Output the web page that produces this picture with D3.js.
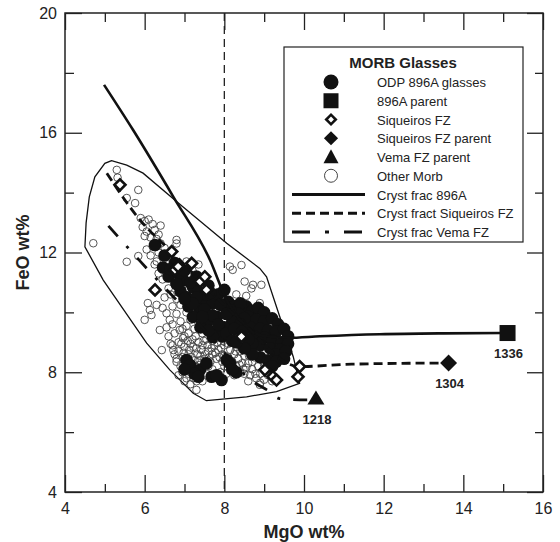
<!DOCTYPE html>
<html>
<head>
<meta charset="utf-8">
<script src="https://cdn.jsdelivr.net/npm/d3@7"></script>
<style>
body{margin:0;background:#fff}
</style>
</head>
<body>
<div id="plot"><svg></svg></div>
<script>
// ---- data (MgO wt%, FeO wt%) ----
var xMajor = [4,6,8,10,12,14,16]
var xMinor = [5,7,9,11,13,15]
var yMajor = [4,8,12,16,20]
var yMinor = [6,10,14,18]

var glasses896A = [
 [8.55,10.2],[8.7,10.05],[8.85,10.15],[9.0,10.0],[8.6,9.85],[8.8,9.75],[9.0,9.7],[9.2,9.8],[9.35,9.6],
 [8.65,9.5],[8.9,9.45],[9.1,9.4],[9.3,9.35],[9.5,9.45],[9.6,9.2],[8.75,9.2],[9.0,9.15],[9.2,9.05],
 [9.45,9.0],[9.6,8.95],[8.9,8.9],[9.15,8.8],[9.4,8.75],[8.7,8.95],[9.3,8.6],[9.55,8.7],
 [8.1,10.35],[8.25,10.2],[8.4,10.3],[8.15,10.0],[8.35,9.95],[8.5,9.8],[8.2,9.7],[8.4,9.6],[8.0,9.5],
 [6.26,12.25],[6.46,11.5],[6.76,11.65],[6.6,11.2],[6.96,11.08],[7.21,10.85],[7.06,10.5],[7.46,10.4],
 [7.71,10.3],[7.39,10.08],[7.81,9.85],[7.21,9.85],[7.56,9.65],[7.89,9.41],[8.14,10.08],[7.3,11.2],
 [7.6,10.9],[7.85,10.6],[8.0,10.75],[7.1,10.2],[7.5,10.1],[7.7,9.9],[7.95,9.2],[7.71,9.18],[7.4,9.5],[6.9,10.7],
 [6.5,11.9],[6.65,11.45],[6.85,11.3],[7.0,11.4],[7.15,11.0],[7.35,10.7],[7.55,10.6],[7.65,10.65],[7.9,10.25],
 [8.05,9.95],[7.3,10.5],[7.2,10.3],[7.0,10.45],[6.8,10.95],[7.45,9.85],[7.6,9.4],[7.85,9.6],[8.05,9.3],
 [8.25,9.45],[8.45,9.35],[8.6,9.1],[8.2,9.05],
 [7.05,8.41],[7.14,8.24],[7.39,8.08],[7.55,8.3],[7.68,7.85],[7.93,7.74],[8.06,8.41],[8.14,8.3],[8.3,8.0],[7.25,7.95],
 [7.0,8.1],[7.35,7.85],[7.8,7.9],[8.2,8.1],
 [8.9,8.5],[9.1,8.4],[9.3,8.35],[9.5,8.45],[9.2,8.2],[8.7,8.6],[8.5,8.8],[8.3,9.0]
]
var parent896A = [[15.11,9.31]]

var siqueirosFZ = [
 [5.38,14.26],[6.68,12.03],[6.26,10.75],[6.76,11.42],[6.84,11.53],[7.18,11.64],[7.39,11.03],[7.51,11.19],
 [7.55,10.75],[8.43,9.19],[9.02,8.08],[9.22,7.85],[9.31,7.74],[9.85,7.85],[9.89,8.19]
]
var siqueirosParent = [[13.63,8.31]]
var vemaParent = [[10.3,7.1]]

var otherMorb = [
 [5.30,14.76],[5.32,14.5],[5.84,14.09],[5.76,13.65],[5.55,13.82],[4.71,12.31],[5.55,11.69],[5.84,11.88],
 [6.80,12.42],[8.14,11.53],[8.21,11.42],[8.43,11.58],[8.51,11.03],[8.72,10.92],[8.93,10.92],[8.68,10.80],
 [8.89,10.31],[6.38,9.41],[6.43,8.74],[6.72,8.74],[7.05,7.80],[7.22,7.80],[7.30,7.41],[6.88,9.41],
 [6.96,9.14],[8.89,7.58],[8.3,10.6],[8.55,10.55],[6.08,10.31],
 [5.9,13.15],[6.0,13.05],[6.1,13.1],[6.2,12.95],[5.95,12.85],[6.05,12.7],[6.25,12.75],[6.35,12.6],
 [6.15,12.5],[6.3,12.45],[6.0,12.55],[6.4,12.9],
 [6.2,12.2],[6.35,12.0],[6.5,12.15],[6.45,11.85],[6.6,11.9],[6.3,11.7],[6.7,11.6],[6.55,11.45],[6.8,12.3],[6.4,12.3],
 [6.7,11.75],[6.9,11.55],[7.05,11.7],[7.2,11.4],[6.85,11.2],[7.0,11.0],[7.3,10.9],[7.15,11.25],[6.75,10.95],[7.35,11.6],
 [6.13,10.08],[6.17,9.91],[6.55,9.97],[6.63,9.75],[6.3,10.25],[6.45,10.15],[6.0,9.75],
 [6.65,10.6],[6.7,10.2],[6.7,9.6],[6.75,9.3],[6.8,10.45],[6.8,9.95],[6.85,9.0],[6.85,8.7],[6.9,10.25],
 [6.9,9.7],[6.95,9.45],[6.95,8.5],[7.0,10.6],[7.0,9.2],[7.0,8.85],[7.05,10.0],[7.05,9.55],[7.1,8.6],
 [7.1,9.3],[7.15,10.35],[7.15,9.75],[7.15,8.95],[7.2,9.1],[7.2,10.55],[7.25,9.45],[7.25,8.4],[7.3,10.15],
 [7.3,8.8],[7.35,9.65],[7.35,9.0],[7.4,8.55],[7.4,10.4],[7.45,9.3],[7.45,8.9],[7.5,9.8],[7.5,8.45],
 [7.55,10.2],[7.55,9.1],[7.6,8.7],[7.6,9.5],[7.65,8.35],[7.65,9.95],[7.7,9.05],[7.7,8.6],[7.75,9.4],
 [7.75,8.9],[7.8,10.1],[7.8,8.45],[7.85,9.15],[7.85,8.75],[6.9,10.9],[7.1,10.75],[7.25,9.95],[7.45,9.65],
 [7.05,8.3],[6.8,8.45],
 [7.9,9.3],[7.95,8.6],[8.0,8.9],[8.0,8.2],[8.05,9.15],[8.05,7.95],[8.1,8.5],[8.1,9.35],[8.15,8.75],
 [8.15,8.05],[8.2,9.0],[8.2,8.35],[8.25,8.6],[8.25,7.9],[8.3,8.85],[8.3,8.2],[8.35,9.2],[8.35,8.45],
 [8.4,8.0],[8.4,8.7],[8.45,8.3],[8.45,9.0],[8.5,8.55],[8.5,7.95],[8.55,8.8],[8.55,8.15],[7.9,8.0],
 [7.95,8.35],[7.85,7.95],[8.0,8.55],[7.6,8.2],[7.7,8.1],[7.5,8.15],[7.4,8.25],[7.95,9.45],[8.2,9.3],
 [8.6,8.3],[8.65,7.9],[8.7,8.1],[8.75,8.5],[8.8,7.8],[8.85,8.2],[8.9,7.95],[8.95,8.4],[9.0,7.75],
 [9.05,8.05],[8.6,7.7],[8.8,8.65],[9.1,7.9],[9.2,7.7],[8.9,7.65],
 [6.7,8.9],[6.75,8.6],[6.8,8.35],[6.9,8.2],[6.95,8.0],[7.0,7.7],[7.1,7.95],[7.15,7.6],[7.3,7.7],
 [7.35,7.95],[6.85,7.9],[7.2,8.1],[7.45,7.7],
 [6.92,8.95],[6.98,8.65],[7.02,8.45],[7.08,9.05],[7.12,8.75],[7.18,8.5],[7.22,8.85],[7.28,9.2],[7.32,8.6],
 [7.38,8.4],[7.42,8.75],[7.48,9.05],[7.52,8.6],[7.58,8.9],[7.62,8.5],[7.68,8.8],[7.72,9.25],[7.78,8.65],
 [7.82,9.0],[7.88,8.5],[7.92,8.8],[7.98,9.05],[6.6,9.2],[6.65,8.95],[6.55,9.5],[6.5,10.5],[6.6,10.8],
 [6.45,11.1],[6.35,11.3],[6.25,11.6],[6.15,11.9],[6.05,12.1],[8.1,8.95],[8.28,8.7],[8.38,8.25],[8.48,8.1],
 [8.62,8.55],[8.7,8.35],[8.78,7.95],[9.0,8.25]
]

var morbField = [
 [5.17,15.07],[5.00,14.98],[4.75,14.53],[4.61,13.86],[4.53,12.99],[4.50,12.19],[4.96,11.08],[6.05,8.97],
 [6.63,8.08],[7.22,7.30],[7.55,7.05],[8.56,7.18],[9.31,7.35],[9.89,7.63],[9.73,8.52],[9.39,9.86],
 [9.06,11.19],[8.89,11.47],[8.06,12.31],[6.80,13.70],[5.96,14.65],[5.55,14.92]
]

var crystFrac896A = [
 [4.98,17.6],[5.71,16.09],[6.72,13.86],[7.64,11.75],[8.06,10.41],[8.5,9.6],[8.95,9.22],[9.6,9.15],
 [10.4,9.2],[11.9,9.27],[13.5,9.3],[15.11,9.31]
]
var crystFracSiqueiros = [
 [5.05,14.65],[5.88,13.09],[6.76,11.92],[8.39,9.75],[9.89,8.19],[11.2,8.27],[13.63,8.31]
]
var crystFracVema = [
 [5.09,12.89],[5.92,11.66],[7.39,9.58],[8.77,7.64],[9.07,7.41],[9.39,7.12],[9.89,7.08],[10.3,7.08]
]

var parentLabels = ["1336","1304","1218"]
var legendTitle = "MORB Glasses"
var legendLabels = ["ODP 896A glasses","896A parent","Siqueiros FZ","Siqueiros FZ parent",
 "Vema FZ parent","Other Morb","Cryst frac 896A","Cryst fract Siqueiros FZ","Cryst frac Vema FZ"]

// ---- drawing ----
var font = "'Liberation Sans', Arial, Helvetica, sans-serif"
var screen = {width:560,height:542}
var box = {left:65,right:543,top:13,bottom:492}

var xScale = d3.scaleLinear().domain([4,16]).range([box.left,box.right])
var yScale = d3.scaleLinear().domain([4,20]).range([box.bottom,box.top])

var svg = d3.select("#plot svg")
    .attr("width",screen.width)
    .attr("height",screen.height)
    .attr("font-family",font)

var makeTranslateString = function(x,y)
{
    return "translate("+x+","+y+")"
}

var lineGen = d3.line()
    .x(function(d){return xScale(d[0])})
    .y(function(d){return yScale(d[1])})

var triPath = function(w,h)
{
    return "M0,"+(-h*0.62)+"L"+(w/2)+","+(h*0.38)+"L"+(-w/2)+","+(h*0.38)+"Z"
}

var drawAxes = function()
{
    var styleAxis = function(g)
    {
        g.select(".domain").remove()
        g.attr("font-family",font).attr("font-size",16)
        g.selectAll("line").attr("stroke","#222").attr("stroke-width",1.3)
        g.selectAll("text").attr("fill","#222")
    }
    // bottom
    svg.append("g").attr("transform",makeTranslateString(0,box.bottom))
        .call(d3.axisBottom(xScale).tickValues(xMajor).tickSizeInner(-17).tickSizeOuter(0).tickPadding(11))
        .call(styleAxis)
    svg.append("g").attr("transform",makeTranslateString(0,box.bottom))
        .call(d3.axisBottom(xScale).tickValues(xMinor).tickSizeInner(-8).tickSizeOuter(0).tickFormat(""))
        .call(styleAxis)
    // top
    svg.append("g").attr("transform",makeTranslateString(0,box.top))
        .call(d3.axisTop(xScale).tickValues(xMajor).tickSizeInner(-17).tickSizeOuter(0).tickFormat(""))
        .call(styleAxis)
    svg.append("g").attr("transform",makeTranslateString(0,box.top))
        .call(d3.axisTop(xScale).tickValues(xMinor).tickSizeInner(-9).tickSizeOuter(0).tickFormat(""))
        .call(styleAxis)
    // left
    svg.append("g").attr("transform",makeTranslateString(box.left,0))
        .call(d3.axisLeft(yScale).tickValues(yMajor).tickSizeInner(-17).tickSizeOuter(0).tickPadding(8))
        .call(styleAxis)
    svg.append("g").attr("transform",makeTranslateString(box.left,0))
        .call(d3.axisLeft(yScale).tickValues(yMinor).tickSizeInner(-9).tickSizeOuter(0).tickFormat(""))
        .call(styleAxis)
    // right
    svg.append("g").attr("transform",makeTranslateString(box.right,0))
        .call(d3.axisRight(yScale).tickValues(yMajor).tickSizeInner(-16).tickSizeOuter(0).tickFormat(""))
        .call(styleAxis)
    svg.append("g").attr("transform",makeTranslateString(box.right,0))
        .call(d3.axisRight(yScale).tickValues(yMinor).tickSizeInner(-8).tickSizeOuter(0).tickFormat(""))
        .call(styleAxis)

    svg.append("rect")
        .attr("x",box.left).attr("y",box.top)
        .attr("width",box.right-box.left).attr("height",box.bottom-box.top)
        .attr("fill","none").attr("stroke","#222").attr("stroke-width",1.5)
}

var drawLabels = function()
{
    svg.append("text")
        .text("MgO wt%")
        .attr("x",(box.left+box.right)/2)
        .attr("y",538)
        .attr("text-anchor","middle")
        .attr("font-weight","bold")
        .attr("font-size",18)
        .attr("fill","#222")

    svg.append("text")
        .text("FeO wt%")
        .attr("transform",makeTranslateString(29,(box.top+box.bottom)/2)+" rotate(-90)")
        .attr("text-anchor","middle")
        .attr("font-weight","bold")
        .attr("font-size",18)
        .attr("fill","#222")
}

var drawPlot = function()
{
    var plot = svg.append("g").attr("id","graph")

    plot.append("path")
        .datum(morbField)
        .attr("d",lineGen.curve(d3.curveLinearClosed))
        .attr("fill","none")
        .attr("stroke","#111")
        .attr("stroke-width",1.3)

    plot.append("line")
        .attr("x1",xScale(8)).attr("x2",xScale(8))
        .attr("y1",box.top).attr("y2",box.bottom)
        .attr("stroke","#222")
        .attr("stroke-width",1.3)
        .attr("stroke-dasharray","8,5")

    plot.selectAll("circle.morb")
        .data(otherMorb)
        .enter()
        .append("circle")
        .attr("class","morb")
        .attr("cx",function(d){return xScale(d[0])})
        .attr("cy",function(d){return yScale(d[1])})
        .attr("r",3.8)
        .attr("fill","none")
        .attr("stroke","#444")
        .attr("stroke-width",0.9)

    plot.selectAll("circle.glass")
        .data(glasses896A)
        .enter()
        .append("circle")
        .attr("class","glass")
        .attr("cx",function(d){return xScale(d[0])})
        .attr("cy",function(d){return yScale(d[1])})
        .attr("r",6.3)
        .attr("fill","#111")

    lineGen.curve(d3.curveMonotoneX)
    plot.append("path")
        .datum(crystFrac896A)
        .attr("d",lineGen)
        .attr("fill","none").attr("stroke","#111").attr("stroke-width",2.6)
    plot.append("path")
        .datum(crystFracSiqueiros)
        .attr("d",lineGen)
        .attr("fill","none").attr("stroke","#111").attr("stroke-width",2.8)
        .attr("stroke-dasharray","9,5")
    plot.append("path")
        .datum(crystFracVema)
        .attr("d",lineGen)
        .attr("fill","none").attr("stroke","#111").attr("stroke-width",2.8)
        .attr("stroke-dasharray","14,13,3,13")

    plot.selectAll("path.siq")
        .data(siqueirosFZ)
        .enter()
        .append("path")
        .attr("class","siq")
        .attr("d",d3.symbol().type(d3.symbolSquare).size(60))
        .attr("transform",function(d){return makeTranslateString(xScale(d[0]),yScale(d[1]))+" rotate(45)"})
        .attr("fill","#fff")
        .attr("stroke","#111")
        .attr("stroke-width",2.6)

    // parents
    plot.selectAll("rect.parent")
        .data(parent896A)
        .enter()
        .append("rect")
        .attr("x",function(d){return xScale(d[0])-8})
        .attr("y",function(d){return yScale(d[1])-8})
        .attr("width",16).attr("height",16)
        .attr("fill","#111")
    plot.selectAll("path.sparent")
        .data(siqueirosParent)
        .enter()
        .append("path")
        .attr("d",d3.symbol().type(d3.symbolSquare).size(144))
        .attr("transform",function(d){return makeTranslateString(xScale(d[0]),yScale(d[1]))+" rotate(45)"})
        .attr("fill","#111")
    plot.selectAll("path.vparent")
        .data(vemaParent)
        .enter()
        .append("path")
        .attr("d",triPath(17,14))
        .attr("transform",function(d){return makeTranslateString(xScale(d[0]),yScale(d[1]))})
        .attr("fill","#111")

    var parents = [parent896A[0],siqueirosParent[0],vemaParent[0]]
    plot.selectAll("text.plabel")
        .data(parents)
        .enter()
        .append("text")
        .text(function(d,i){return parentLabels[i]})
        .attr("x",function(d){return xScale(d[0])+1})
        .attr("y",function(d){return yScale(d[1])+25})
        .attr("text-anchor","middle")
        .attr("font-weight","bold")
        .attr("font-size",13)
        .attr("fill","#222")
}

var drawLegend = function()
{
    var lg = svg.append("g").attr("id","legend")
    lg.append("rect")
        .attr("x",284).attr("y",47).attr("width",239).attr("height",195)
        .attr("fill","#fff").attr("stroke","#222").attr("stroke-width",1.2)
    lg.append("text")
        .text(legendTitle)
        .attr("x",403).attr("y",68)
        .attr("text-anchor","middle")
        .attr("font-weight","bold")
        .attr("font-size",15)
        .attr("fill","#222")

    var rowY = function(i){return 82+i*18.75}
    var sx = 331

    lg.selectAll("text.item")
        .data(legendLabels)
        .enter()
        .append("text")
        .attr("class","item")
        .text(function(d){return d})
        .attr("x",377)
        .attr("y",function(d,i){return rowY(i)+5})
        .attr("font-size",13)
        .attr("fill","#222")

    lg.append("circle").attr("cx",sx).attr("cy",rowY(0)).attr("r",7.5).attr("fill","#111")
    lg.append("rect").attr("x",sx-7.5).attr("y",rowY(1)-7.5).attr("width",15).attr("height",15).attr("fill","#111")
    lg.append("path").attr("d",d3.symbol().type(d3.symbolSquare).size(45))
        .attr("transform",makeTranslateString(sx,rowY(2))+" rotate(45)")
        .attr("fill","#fff").attr("stroke","#111").attr("stroke-width",2.6)
    lg.append("path").attr("d",d3.symbol().type(d3.symbolSquare).size(100))
        .attr("transform",makeTranslateString(sx,rowY(3))+" rotate(45)")
        .attr("fill","#111")
    lg.append("path").attr("d",triPath(15,14))
        .attr("transform",makeTranslateString(sx,rowY(4)+1))
        .attr("fill","#111")
    lg.append("circle").attr("cx",sx).attr("cy",rowY(5)).attr("r",6.5)
        .attr("fill","none").attr("stroke","#444").attr("stroke-width",1)

    var dashes = [null,"9,5","18,15,4,15"]
    dashes.forEach(function(dash,i)
    {
        lg.append("line")
            .attr("x1",292).attr("x2",365)
            .attr("y1",rowY(6+i)).attr("y2",rowY(6+i))
            .attr("stroke","#111").attr("stroke-width",2.8)
            .attr("stroke-dasharray",dash)
    })
}

drawPlot()
drawAxes()
drawLabels()
drawLegend()
</script>
</body>
</html>
